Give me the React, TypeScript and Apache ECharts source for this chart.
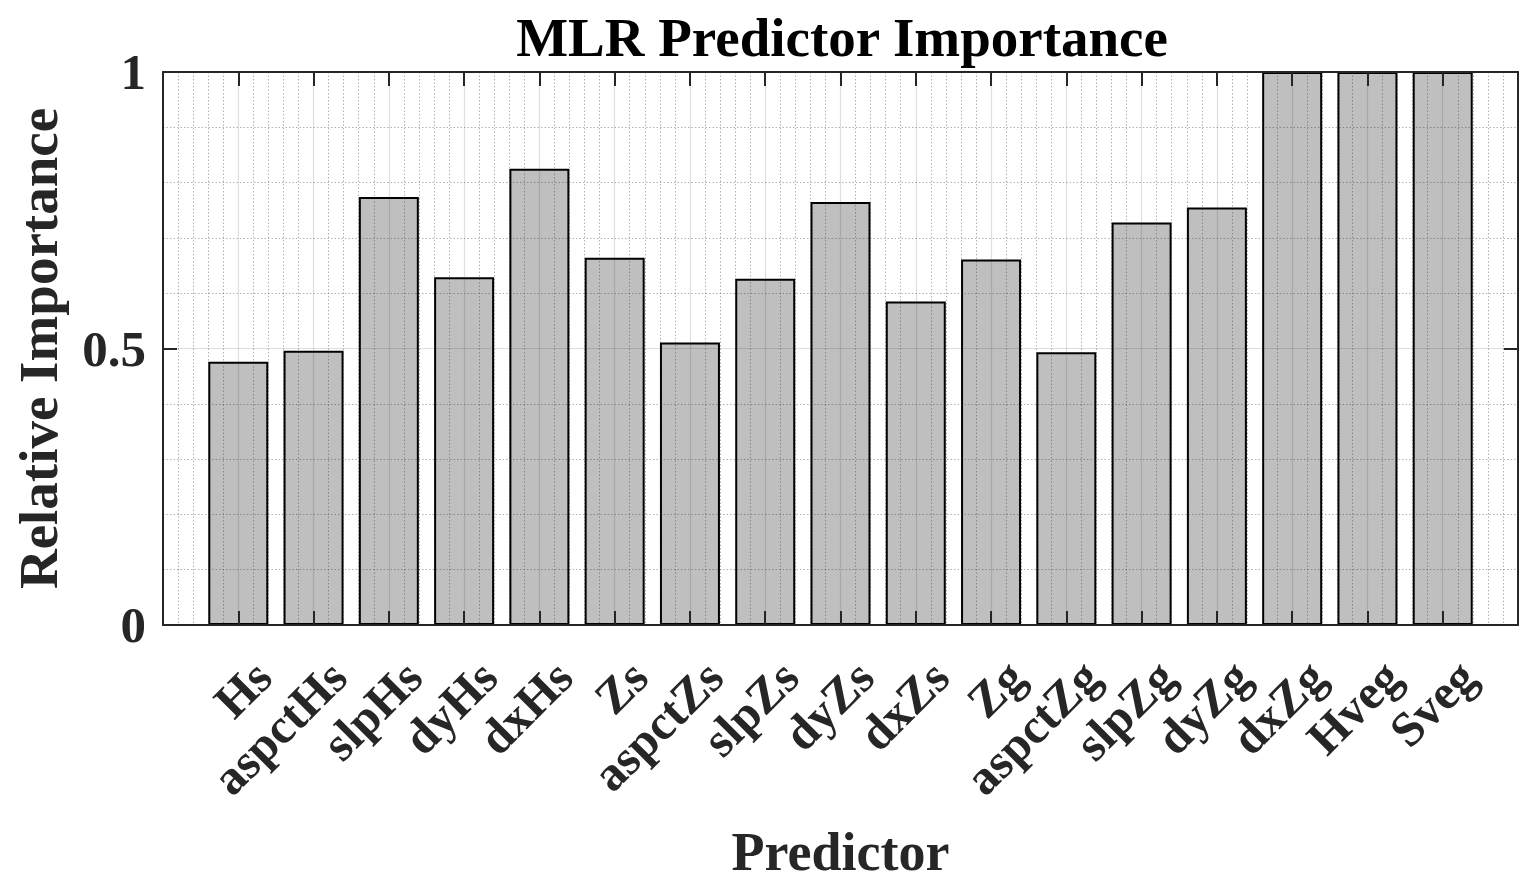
import React, { useEffect, useRef } from 'react';
import * as echarts from 'echarts';

const predictors = ['Hs', 'aspctHs', 'slpHs', 'dyHs', 'dxHs', 'Zs', 'aspctZs', 'slpZs', 'dyZs', 'dxZs', 'Zg', 'aspctZg', 'slpZg', 'dyZg', 'dxZg', 'Hveg', 'Sveg'];
const importance = [0.476, 0.496, 0.774, 0.629, 0.825, 0.664, 0.511, 0.626, 0.765, 0.585, 0.661, 0.493, 0.728, 0.755, 1, 1, 1];
const titleText = 'MLR Predictor Importance';
const xName = 'Predictor';
const yName = 'Relative Importance';

const FONT = '"Liberation Serif", "Times New Roman", serif';
const INK = '#262626';
const MAJOR = 'rgba(38,38,38,0.15)';
const MINOR = 'rgba(38,38,38,0.36)';

export default function App() {
  const ref = useRef<HTMLDivElement>(null);
  useEffect(() => {
    if (!ref.current) return;
    const chart = echarts.init(ref.current, undefined, { renderer: 'svg' });
    const axisLine = { show: true, onZero: false, lineStyle: { color: INK, width: 2 } };
    const axisTick = { show: true, inside: true, length: 14, lineStyle: { color: INK, width: 2 } };
    const labelStyle = { fontFamily: FONT, fontWeight: 'bold' as const, color: INK };
    chart.setOption({
      animation: false,
      backgroundColor: '#ffffff',
      title: {
        text: titleText,
        left: 837,
        textAlign: 'center',
        top: 5,
        textStyle: { ...labelStyle, color: '#000000', fontSize: 55 },
      },
      grid: { left: 163, right: 20, top: 72, bottom: 262, containLabel: false },
      xAxis: [
        {
          type: 'value',
          position: 'bottom',
          min: 0,
          max: 18,
          interval: 1,
          z: 3,
          axisLine,
          axisTick,
          axisLabel: {
            ...labelStyle,
            fontSize: 49,
            rotate: 45,
            align: 'right',
            verticalAlign: 'top',
            lineHeight: 70,
            margin: 19,
            showMinLabel: true,
            showMaxLabel: true,
            formatter: (v: number) => predictors[Math.round(v) - 1] ?? '',
          },
          splitLine: { show: true, lineStyle: { color: MAJOR, width: 1.2 } },
          minorTick: { show: false, splitNumber: 5 },
          minorSplitLine: { show: true, lineStyle: { color: MINOR, width: 1, type: [1.5, 2] } },
          name: xName,
          nameLocation: 'middle',
          nameGap: 200,
          nameTextStyle: { ...labelStyle, fontSize: 54 },
        },
        {
          type: 'value',
          position: 'top',
          min: 0,
          max: 18,
          interval: 1,
          z: 3,
          axisLine,
          axisTick,
          axisLabel: { show: false },
          splitLine: { show: false },
        },
      ],
      yAxis: [
        {
          type: 'value',
          position: 'left',
          min: 0,
          max: 1,
          interval: 0.5,
          z: 3,
          axisLine,
          axisTick,
          axisLabel: { ...labelStyle, fontSize: 51, margin: 17 },
          splitLine: { show: true, lineStyle: { color: MAJOR, width: 1.2 } },
          minorTick: { show: false, splitNumber: 5 },
          minorSplitLine: { show: true, lineStyle: { color: MINOR, width: 1, type: [1.5, 2] } },
          name: yName,
          nameLocation: 'middle',
          nameGap: 97,
          nameRotate: 90,
          nameTextStyle: { ...labelStyle, fontSize: 55 },
        },
        {
          type: 'value',
          position: 'right',
          min: 0,
          max: 1,
          interval: 0.5,
          z: 3,
          axisLine,
          axisTick,
          axisLabel: { show: false },
          splitLine: { show: false },
        },
      ],
      series: [
        {
          type: 'bar',
          xAxisIndex: 0,
          yAxisIndex: 0,
          barWidth: 60,
          z: 2,
          data: importance.map((v, i) => [i + 1, v]),
          itemStyle: { color: '#bfbfbf', borderColor: '#000000', borderWidth: 2 },
        },
      ],
    });
    return () => chart.dispose();
  }, []);
  return <div ref={ref} style={{ position: 'fixed', left: 0, top: 0, width: 1538, height: 887, background: '#fff' }} />;
}
